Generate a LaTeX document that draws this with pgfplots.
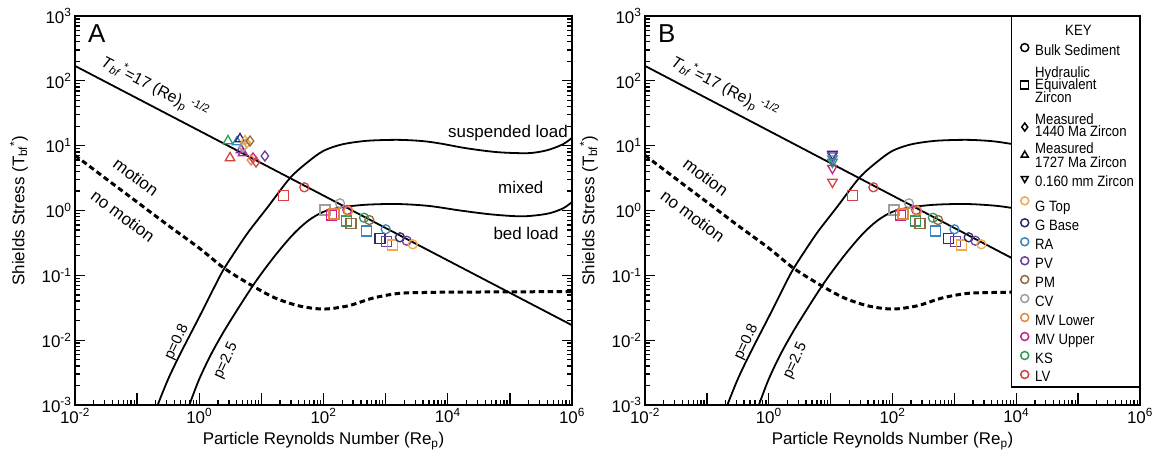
\documentclass[border=0pt]{standalone}
\usepackage{pgfplots}
\pgfplotsset{compat=1.18}
\usepackage{pgfplotstable}
\usepackage{fontspec}
\setmainfont{Liberation Sans}
\usepackage{graphicx}

\definecolor{cGT}{HTML}{F2A94A}
\definecolor{cGB}{HTML}{2C2A6B}
\definecolor{cRA}{HTML}{3A86C2}
\definecolor{cPV}{HTML}{6B3FA0}
\definecolor{cPM}{HTML}{8F6A3C}
\definecolor{cCV}{HTML}{9E9E9E}
\definecolor{cMVL}{HTML}{E5873A}
\definecolor{cMVU}{HTML}{CC1F8A}
\definecolor{cKS}{HTML}{2E9A5C}
\definecolor{cLV}{HTML}{D8403F}

\pgfplotstableread{
x y
0.214 0.001
0.316 0.00251
0.501 0.00631
0.955 0.0209
1.514 0.0501
2.399 0.1175
3.981 0.251
6.31 0.479
12.59 1.122
28.84 3.162
56.2 5.62
100 8.32
199.5 10.47
501 11.89
1585 12.30
3981 11.75
7943 10.72
19953 9.12
63096 7.94
199526 7.67
398107 8.51
707946 10.47
1000000 13.18
}\curveupper

\pgfplotstableread{
x y
0.692 0.001
1.0 0.00251
1.585 0.00631
2.818 0.0166
7.41 0.0708
15.85 0.1905
31.62 0.417
56.23 0.692
100 0.955
199.5 1.122
501 1.230
1585 1.259
5012 1.175
15849 1.0
50119 0.871
158489 0.813
398107 0.891
707946 1.072
1000000 1.349
}\curvelower

\pgfplotstableread{
x y
0.01 7.08
0.0316 3.09
0.1 1.349
0.316 0.589
1 0.263
2.512 0.129
6.31 0.0741
15.85 0.0457
39.8 0.0339
100 0.0302
251 0.0339
631 0.0447
1585 0.0525
3981 0.0543
10000 0.0550
100000 0.0556
1000000 0.0562
}\curveshields

\pgfplotstableread{
x y c
22.5 1.69 LV
105.7 1.02 CV
135.5 0.851 MVU
147.6 0.883 MVL
236 0.689 KS
277 0.634 PM
496 0.483 RA
811 0.372 GB
1040 0.330 PV
1300 0.294 GT
}\datahydro

\pgfplotstableread{
x y c
49.1 2.28 LV
184.5 1.29 CV
241.5 1.02 MVU
250.6 0.99 MVL
448.7 0.774 KS
546 0.713 PM
1003 0.513 RA
1703 0.386 GB
2183 0.342 PV
2729 0.301 GT
}\databulk

\pgfplotstableread{
x y c
2.90 11.8 KS
4.06 11.4 RA
4.53 12.7 GB
5.45 11.8 GT
4.70 8.57 PV
5.06 7.71 MVU
3.13 6.46 LV
}\datatri

\pgfplotstableread{
x y c
5.06 9.53 CV
5.87 11.0 GT
6.56 11.8 PM
7.33 6.46 MVU
6.81 6.01 MVL
8.20 5.60 LV
11.4 6.92 PV
}\datadia

\pgfplotstableread{
x y c
10.7 7.4 GB
10.7 7.0 PV
10.7 6.3 RA
10.7 5.6 KS
10.7 4.5 MVU
10.7 2.75 LV
}\datainv

\newcommand{\nar}[1]{\scalebox{0.88}[1]{#1}}
% legend row: height, depth, text
\newcommand{\lrow}[3]{\raisebox{0pt}[#1bp][#2bp]{\hspace*{6bp}\nar{#3}}}

\tikzset{tk/.style={black, line width=1.3bp}}

\pgfplotsset{
 crv/.style={black, line width=1.8bp, smooth, forget plot},
 smp/.style={only marks, scatter, forget plot, scatter src=explicit symbolic,
  scatter/classes={GT={cGT},GB={cGB},RA={cRA},PV={cPV},PM={cPM},CV={cCV},MVL={cMVL},MVU={cMVU},KS={cKS},LV={cLV}}},
 lgk/.style={only marks, mark size=4bp, mark options={line width=1.5bp}},
 lgn/.style={legend image code/.code={}},
}

% axis tick marks, drawn on the axis frame
\newcommand{\myticks}{%
 \pgfplotsinvokeforeach{1e-2,1e-1,1,10,100,1000,1e4,1e5,1e6}{\draw[tk] (axis cs:##1,1e-3) -- ++(0bp,12bp);}
 \pgfplotsinvokeforeach{2e-2,3e-2,4e-2,5e-2,6e-2,7e-2,8e-2,9e-2,
   0.2,0.3,0.4,0.5,0.6,0.7,0.8,0.9,2,3,4,5,6,7,8,9,
   20,30,40,50,60,70,80,90,200,300,400,500,600,700,800,900,
   2000,3000,4000,5000,6000,7000,8000,9000,
   2e4,3e4,4e4,5e4,6e4,7e4,8e4,9e4,2e5,3e5,4e5,5e5,6e5,7e5,8e5,9e5}{\draw[tk] (axis cs:##1,1e-3) -- ++(0bp,5bp);}
 \pgfplotsinvokeforeach{1e-3,1e-2,1e-1,1,10,100,1000}{\draw[tk] (axis cs:0.01,##1) -- (axis cs:0.01449,##1); \draw[tk] (axis cs:1000000,##1) -- (axis cs:690000,##1);}
 \pgfplotsinvokeforeach{2e-3,3e-3,4e-3,5e-3,6e-3,7e-3,8e-3,9e-3,
   0.02,0.03,0.04,0.05,0.06,0.07,0.08,0.09,
   0.2,0.3,0.4,0.5,0.6,0.7,0.8,0.9,2,3,4,5,6,7,8,9,
   20,30,40,50,60,70,80,90,200,300,400,500,600,700,800,900}{\draw[tk] (axis cs:0.01,##1) -- (axis cs:0.01204,##1); \draw[tk] (axis cs:1000000,##1) -- (axis cs:830000,##1);}
}

\newcommand{\common}{%
 \myticks
 \addplot[crv] table[x=x,y=y] {\curveupper};
 \addplot[crv] table[x=x,y=y] {\curvelower};
 \addplot[crv, dash pattern=on 5.5bp off 3.5bp, line width=3bp] table[x=x,y=y] {\curveshields};
 \addplot[crv] coordinates {(0.01,170) (1000000,0.017)};
 \node[rotate=-27.5, anchor=base west, inner sep=0, font=\fontsize{16}{16}\selectfont] at (axis cs:0.0252,175) {\textit{T}\textsubscript{\textit{bf}}\textsuperscript{*}=17 (Re)\textsubscript{p}\,\textsuperscript{-1/2}};
 \node[rotate=-36.5, font=\fontsize{17}{17}\selectfont] at (axis cs:0.096,3.29) {motion};
 \node[rotate=-36.5, font=\fontsize{17}{17}\selectfont] at (axis cs:0.0593,0.822) {no motion};
 \node[rotate=65, font=\fontsize{15}{15}\selectfont] at (axis cs:0.438,0.00935) {p=0.8};
 \node[rotate=65, font=\fontsize{15}{15}\selectfont] at (axis cs:2.70,0.00479) {p=2.5};
 \addplot[smp, mark=square, mark size=5bp, mark options={line width=1.3bp}] table[x=x,y=y,meta=c] {\datahydro};
 \addplot[smp, mark=o, mark size=4.5bp, mark options={line width=1.3bp}] table[x=x,y=y,meta=c] {\databulk};
}

\begin{document}
\begin{tikzpicture}
\begin{axis}[at={(0bp,0bp)}, anchor=south west, width=497bp,
  xmode=log, ymode=log, xmin=1e-2, xmax=1e6, ymin=1e-3, ymax=1e3,
  height=389bp, scale only axis,
  xtick={1e-2,1e-1,1,1e1,1e2,1e3,1e4,1e5,1e6},
  xticklabels={10\textsuperscript{-2},,10\textsuperscript{0},,10\textsuperscript{2},,10\textsuperscript{4},,10\textsuperscript{6}},
  ytick={1e-3,1e-2,1e-1,1,1e1,1e2,1e3},
  yticklabels={10\textsuperscript{-3},10\textsuperscript{-2},10\textsuperscript{-1},10\textsuperscript{0},10\textsuperscript{1},10\textsuperscript{2},10\textsuperscript{3}},
  major tick length=0bp, minor tick length=0bp,
  axis line style={line width=1.4bp},
  tick label style={font=\fontsize{17}{17}\selectfont},
  label style={font=\fontsize{17}{20}\selectfont},
  xlabel={Particle Reynolds Number (Re\textsubscript{p})},
  ylabel={Shields Stress (T\textsubscript{bf}\textsuperscript{*})},
  xlabel style={at={(axis description cs:0.5,0)}, anchor=center, yshift=-36bp},
  ylabel style={at={(axis description cs:0,0.5)}, anchor=center, yshift=56bp}]
 \common
 \addplot[smp, mark=triangle, mark size=5.5bp, mark options={line width=1.3bp}] table[x=x,y=y,meta=c] {\datatri};
 \addplot[smp, mark=diamond, mark size=5bp, mark options={line width=1.3bp}] table[x=x,y=y,meta=c] {\datadia};
 \node[anchor=north west, inner sep=0, font=\fontsize{26}{26}\selectfont] at (rel axis cs:0.026,0.977) {A};
 \node[font=\fontsize{17}{17}\selectfont] at (axis cs:93000,15.7) {suspended load};
 \node[font=\fontsize{17}{17}\selectfont] at (axis cs:150000,2.30) {mixed};
 \node[font=\fontsize{17}{17}\selectfont] at (axis cs:182000,0.45) {bed load};
\end{axis}
\begin{axis}[at={(570bp,0bp)}, anchor=south west, width=495bp,
  xmode=log, ymode=log, xmin=1e-2, xmax=1e6, ymin=1e-3, ymax=1e3,
  height=389bp, scale only axis,
  xtick={1e-2,1e-1,1,1e1,1e2,1e3,1e4,1e5,1e6},
  xticklabels={10\textsuperscript{-2},,10\textsuperscript{0},,10\textsuperscript{2},,10\textsuperscript{4},,10\textsuperscript{6}},
  ytick={1e-3,1e-2,1e-1,1,1e1,1e2,1e3},
  yticklabels={10\textsuperscript{-3},10\textsuperscript{-2},10\textsuperscript{-1},10\textsuperscript{0},10\textsuperscript{1},10\textsuperscript{2},10\textsuperscript{3}},
  major tick length=0bp, minor tick length=0bp,
  axis line style={line width=1.4bp},
  tick label style={font=\fontsize{17}{17}\selectfont},
  label style={font=\fontsize{17}{20}\selectfont},
  xlabel={Particle Reynolds Number (Re\textsubscript{p})},
  ylabel={Shields Stress (T\textsubscript{bf}\textsuperscript{*})},
  xlabel style={at={(axis description cs:0.5,0)}, anchor=center, yshift=-36bp},
  ylabel style={at={(axis description cs:0,0.5)}, anchor=center, yshift=56bp},
  legend cell align=left,
  legend style={at={(1,1)}, anchor=north east, draw=black, line width=1.2bp, fill=white,
   inner xsep=5bp, inner ysep=3bp, row sep=0bp, nodes={inner sep=0.5bp},
   font=\fontsize{15}{15}\selectfont}]
 \common
 \addplot[smp, mark=triangle, mark size=5.5bp, mark options={rotate=180, line width=1.3bp}] table[x=x,y=y,meta=c] {\datainv};
 \node[anchor=north west, inner sep=0, font=\fontsize{26}{26}\selectfont] at (rel axis cs:0.026,0.977) {B};
 \addlegendimage{lgn}\addlegendentry{\raisebox{0pt}[15.5bp][3.5bp]{\hspace*{36bp}\nar{KEY}}}
 \addlegendimage{lgk, black, mark=o}\addlegendentry{\lrow{17.5}{3.5}{Bulk Sediment}}
 \addlegendimage{lgn}\addlegendentry{\lrow{19}{3.5}{Hydraulic}}
 \addlegendimage{only marks, black, mark=square, mark size=4bp, mark options={line width=1.5bp, overlay}}\addlegendentry{\lrow{9.5}{3.5}{Equivalent}}
 \addlegendimage{lgn}\addlegendentry{\lrow{10.5}{3.5}{Zircon}}
 \addlegendimage{lgn}\addlegendentry{\lrow{19.5}{3.5}{Measured}}
 \addlegendimage{only marks, black, mark=diamond, mark size=4bp, mark options={line width=1.5bp, yshift=5bp, overlay}}\addlegendentry{\lrow{9.5}{3.5}{1440 Ma Zircon}}
 \addlegendimage{lgn}\addlegendentry{\lrow{14.5}{3.5}{Measured}}
 \addlegendimage{only marks, black, mark=triangle, mark size=4bp, mark options={line width=1.5bp, yshift=7bp, overlay}}\addlegendentry{\lrow{11.5}{3.5}{1727 Ma Zircon}}
 \addlegendimage{only marks, black, mark=triangle, mark size=4bp, mark options={rotate=180, line width=1.5bp}}\addlegendentry{\lrow{16.5}{3.5}{0.160 mm Zircon}}
 \addlegendimage{lgk, cGT, mark=o}\addlegendentry{\lrow{23}{3.5}{G Top}}
 \addlegendimage{lgk, cGB, mark=o}\addlegendentry{\lrow{16}{3.5}{G Base}}
 \addlegendimage{lgk, cRA, mark=o}\addlegendentry{\lrow{17}{3.5}{RA}}
 \addlegendimage{lgk, cPV, mark=o}\addlegendentry{\lrow{16}{3.5}{PV}}
 \addlegendimage{lgk, cPM, mark=o}\addlegendentry{\lrow{16.5}{3.5}{PM}}
 \addlegendimage{lgk, cCV, mark=o}\addlegendentry{\lrow{16.5}{3.5}{CV}}
 \addlegendimage{lgk, cMVL, mark=o}\addlegendentry{\lrow{16.5}{3.5}{MV Lower}}
 \addlegendimage{lgk, cMVU, mark=o}\addlegendentry{\lrow{16.5}{3.5}{MV Upper}}
 \addlegendimage{lgk, cKS, mark=o}\addlegendentry{\lrow{16.5}{3.5}{KS}}
 \addlegendimage{lgk, cLV, mark=o}\addlegendentry{\lrow{16.5}{2}{LV}}
\end{axis}
\pgfresetboundingbox
\path (-75bp,-54bp) rectangle (1078bp,405bp);
\end{tikzpicture}
\end{document}
